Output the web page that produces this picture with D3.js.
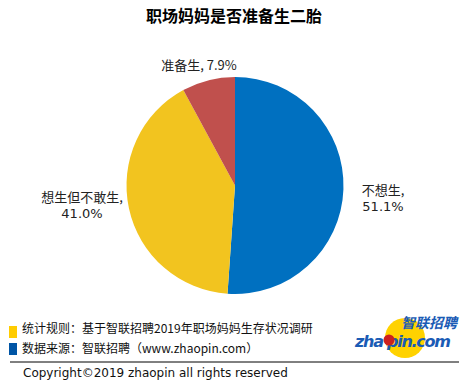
<!DOCTYPE html>
<html>
<head>
<meta charset="utf-8">
<script src="https://cdn.jsdelivr.net/npm/d3@7"></script>
<style>
body { margin: 0; background: #fff; }
text { font-family: "Microsoft YaHei", "Noto Sans CJK SC", sans-serif; }
</style>
</head>
<body>
<svg id="chart"></svg>
<script>
const categories = ["不想生", "想生但不敢生", "准备生"];
const values = [51.1, 41.0, 7.9];
const colors = ["#0070C0", "#F2C41F", "#C0504D"];
const notes = ["统计规则：基于智联招聘2019年职场妈妈生存状况调研", "数据来源：智联招聘（www.zhaopin.com）"];

const width = 468, height = 392;
const svg = d3.select("#chart").attr("width", width).attr("height", height);

svg.append("text")
    .attr("x", 234).attr("y", 22)
    .attr("text-anchor", "middle")
    .attr("font-size", 16).attr("font-weight", "bold")
    .text("职场妈妈是否准备生二胎");

const data = categories.map((c, i) => ({name: c, value: values[i], color: colors[i]}));
const pie = d3.pie().value(d => d.value).sort(null);
const arcs = pie(data);
const radius = 108.5;
const arc = d3.arc().innerRadius(0).outerRadius(radius);

const g = svg.append("g").attr("transform", "translate(235,185.5)");
g.selectAll("path")
    .data(arcs)
    .enter().append("path")
    .attr("d", arc)
    .attr("fill", d => d.data.color);

// label positions (offset from pie center)
const labelPos = [[148, 17], [-153, 24], [-36, -116]];
arcs.forEach((a, i) => {
    const p = labelPos[i];
    if (i === 2) {
        g.append("text")
            .attr("x", p[0]).attr("y", p[1])
            .attr("text-anchor", "middle")
            .attr("font-size", 13).attr("fill", "#222")
            .text(a.data.name + ", " + a.data.value.toFixed(1) + "%");
    } else {
        g.append("text")
            .attr("x", p[0]).attr("y", p[1] - 8)
            .attr("text-anchor", "middle")
            .attr("font-size", 13).attr("fill", "#222")
            .text(a.data.name + ",");
        g.append("text")
            .attr("x", p[0]).attr("y", p[1] + 8)
            .attr("text-anchor", "middle")
            .attr("font-size", 13).attr("fill", "#222")
            .style("font-family", "'DejaVu Sans', sans-serif")
            .text(a.data.value.toFixed(1) + "%");
    }
});

// notes
const noteColors = ["#FFCC00", "#0055A5"];
notes.forEach((n, i) => {
    svg.append("rect")
        .attr("x", 9).attr("y", 326 + i * 17)
        .attr("width", 8).attr("height", 12)
        .attr("fill", noteColors[i]);
    svg.append("text")
        .attr("x", 22).attr("y", 333 + i * 20)
        .attr("font-size", 12).attr("fill", "#111")
        .text(n);
});

svg.append("line")
    .attr("x1", 10).attr("x2", 459)
    .attr("y1", 362).attr("y2", 362)
    .attr("stroke", "#000").attr("stroke-width", 1);

svg.append("text")
    .attr("x", 23).attr("y", 377)
    .attr("font-size", 12).attr("fill", "#111")
    .style("font-family", "Tahoma, 'DejaVu Sans', sans-serif")
    .text("Copyright©2019 zhaopin all rights reserved");

// logo
const logo = svg.append("g");
logo.append("circle").attr("cx", 405).attr("cy", 338).attr("r", 20).attr("fill", "#FFD200");
logo.append("text")
    .attr("x", 457).attr("y", 328)
    .attr("text-anchor", "end")
    .attr("font-size", 14).attr("font-weight", "bold").attr("font-style", "italic")
    .attr("fill", "#1A5BB5")
    .text("智联招聘");
logo.append("text")
    .attr("x", 355).attr("y", 347)
    .attr("font-size", 16).attr("font-weight", "bold").attr("font-style", "italic")
    .attr("fill", "#1A5BB5")
    .style("font-family", "'DejaVu Sans', sans-serif")
    .attr("textLength", 96)
    .text("zha pin.com");
logo.append("circle").attr("cx", 389).attr("cy", 340).attr("r", 5.5).attr("fill", "#CC2020");
</script>
</body>
</html>
